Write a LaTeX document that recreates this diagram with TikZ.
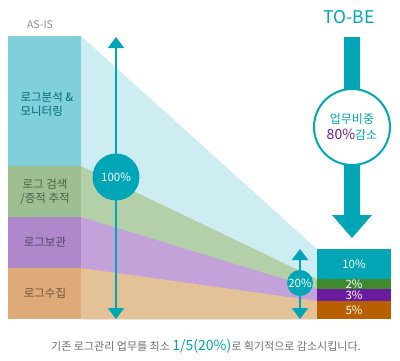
\documentclass[tikz,border=0pt]{standalone}
\usepackage{fontspec}
\setmainfont{Noto Sans CJK KR}
\usetikzlibrary{arrows.meta}
\definecolor{tobe}{HTML}{00A6B6}
\definecolor{cyanbar}{HTML}{80D0DB}
\definecolor{cyanband}{HTML}{CDEDF2}
\definecolor{greenbar}{HTML}{9EBF92}
\definecolor{greenband}{HTML}{B4D0A8}
\definecolor{purplebar}{HTML}{AE88CB}
\definecolor{purpleband}{HTML}{C2A2D8}
\definecolor{orangebar}{HTML}{DDAA78}
\definecolor{orangeband}{HTML}{E3C298}
\definecolor{greenbox}{HTML}{3F8A2E}
\definecolor{purplebox}{HTML}{6A1BA0}
\definecolor{orangebox}{HTML}{B85F00}
\definecolor{greytext}{HTML}{6E6E6E}
\tikzstyle{pct} = [text=white, font=\fontsize{11.5}{13}\selectfont]
\tikzstyle{lbl} = [align=center, font=\fontsize{11.5}{13.5}\selectfont]
\tikzstyle{updown} = [line width=2pt, tobe, {Triangle[width=16pt,length=11pt]}-{Triangle[width=16pt,length=11pt]}]

\begin{document}
\begin{tikzpicture}[x=1pt,y=-1pt]
\useasboundingbox (0,0) rectangle (400,360);
% bands
\fill[cyanband] (81,36) -- (317,249) -- (317,319) -- (81,319) -- cycle;
\fill[greenband] (81,166) -- (317,279) -- (317,319) -- (81,319) -- cycle;
\fill[purpleband] (81,217) -- (317,289) -- (317,319) -- (81,319) -- cycle;
\fill[orangeband] (81,268) -- (317,301) -- (317,319) -- (81,319) -- cycle;
% as-is
\fill[cyanbar] (8,36) rectangle (81,166);
\fill[greenbar] (8,166) rectangle (81,217);
\fill[purplebar] (8,217) rectangle (81,268);
\fill[orangebar] (8,268) rectangle (81,319);
\node[text=greytext!80, font=\fontsize{10.5}{12}\selectfont] (asis) at (40,25) {AS-IS};
\node[lbl, align=left, anchor=west, text=tobe!65!black] (analyze) at (17,104) {로그분석 \&\\모니터링};
\node[lbl, text=black!50!greenbar] (search) at (45,192) {로그 검색\\/증적 추적};
\node[lbl, text=black!50!purplebar] (store) at (45,242) {로그보관};
\node[lbl, text=black!50!orangebar] (collect) at (45,293) {로그수집};
% to-be
\fill[tobe] (317,249) rectangle (391,279);
\fill[greenbox] (317,279) rectangle (391,289);
\fill[purplebox] (317,289) rectangle (391,301);
\fill[orangebox] (317,301) rectangle (391,319);
\node[pct] (p10) at (354,264) {10\%};
\node[pct] (p2) at (354,284) {2\%};
\node[pct] (p3) at (354,295) {3\%};
\node[pct] (p5) at (354,310) {5\%};
\node[text=tobe, font=\fontsize{17.5}{20}\selectfont] (tobetitle) at (349,17) {TO-BE};
\fill[tobe] (344,37) -- (360,37) -- (360,215) -- (372,215) -- (352,238) -- (332,215) -- (344,215) -- cycle;
\node[circle, draw=tobe, line width=2pt, fill=white, minimum size=76pt, inner sep=0, align=center, font=\fontsize{12}{16}\selectfont] (cut) at (352,127) {\textcolor{tobe}{업무비중}\\{\fontsize{14}{16}\selectfont\textcolor{purplebox}{80\%}}\textcolor{tobe}{감소}};
% arrows
\coordinate (top100) at (116,37);
\coordinate (bot100) at (116,319);
\draw[updown] (top100) -- (bot100);
\node[circle, fill=tobe, minimum size=47pt, inner sep=0, pct] (p100) at (116,177) {100\%};
\coordinate (top20) at (300,249);
\coordinate (bot20) at (300,319);
\draw[updown] (top20) -- (bot20);
\node[circle, fill=tobe, minimum size=26pt, inner sep=0, pct] (p20) at (300,283) {20\%};
% bottom line
\node[text=greytext, font=\fontsize{11}{12}\selectfont] (summary) at (206,346) {기존 로그관리 업무를 최소 {\fontsize{14}{15}\selectfont\textcolor{tobe}{1/5(20\%)}}로 획기적으로 감소시킵니다.};
\end{tikzpicture}
\end{document}
